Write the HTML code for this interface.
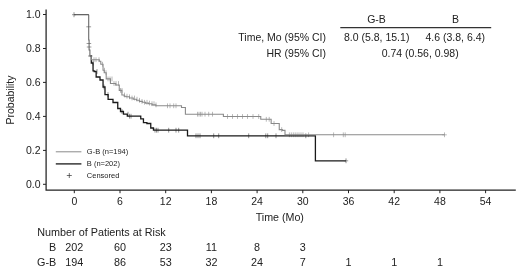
<!DOCTYPE html>
<html><head><meta charset="utf-8"><title>Kaplan-Meier</title>
<style>
html,body{margin:0;padding:0;background:#fff}
svg{display:block}
text{font-family:"Liberation Sans",sans-serif;fill:#222}
</style></head><body>
<svg width="520" height="275" viewBox="0 0 520 275">
<rect width="520" height="275" fill="#fff"/>
<!-- axes -->
<path d="M46.1,9.5V190.05H515.8" fill="none" stroke="#222" stroke-width="1.25"/>
<path d="M43,14.5h3M43,48.5h3M43,82.4h3M43,116.4h3M43,150.4h3M43,184.3h3" stroke="#222" stroke-width="1" fill="none"/>
<path d="M74.3,190v3.2M120,190v3.2M165.7,190v3.2M211.4,190v3.2M257.1,190v3.2M302.8,190v3.2M348.5,190v3.2M394.2,190v3.2M439.9,190v3.2M485.6,190v3.2" stroke="#222" stroke-width="1" fill="none"/>
<g font-size="10.5" text-anchor="end">
<text x="40.5" y="18.2">1.0</text><text x="40.5" y="52.2">0.8</text><text x="40.5" y="86.1">0.6</text><text x="40.5" y="120.1">0.4</text><text x="40.5" y="154.1">0.2</text><text x="40.5" y="188">0.0</text>
</g>
<g font-size="10.5" text-anchor="middle">
<text x="74.3" y="204.6">0</text><text x="120" y="204.6">6</text><text x="165.7" y="204.6">12</text><text x="211.4" y="204.6">18</text><text x="257.1" y="204.6">24</text><text x="302.8" y="204.6">30</text><text x="348.5" y="204.6">36</text><text x="394.2" y="204.6">42</text><text x="439.9" y="204.6">48</text><text x="485.6" y="204.6">54</text>
<text x="279.8" y="220.6" font-size="10.7">Time (Mo)</text>
</g>
<text font-size="10.5" text-anchor="middle" transform="translate(13.5,100) rotate(-90)">Probability</text>
<!-- curves -->
<path d="M94,57.3v4.8M96,57.3v4.8M99,57.3v4.8M102.5,61.8v4.8M104.5,67.8v4.8M106,70.3v4.8M108,76.5v4.8M110,76.5v4.8M112,76.5v4.8M114,81.1v4.8M116,81.1v4.8M118.5,81.1v4.8M120.5,88v4.8M122,88v4.8M124.5,92.6v4.8M127,93.8v4.8M129.5,94.4v4.8M132,95.6v4.8M134.5,95.6v4.8M137,96.8v4.8M139.5,97.9v4.8M142,99v4.8M144.5,99.9v4.8M147,99.9v4.8M149.5,100.7v4.8M152,101.3v4.8M154,101.3v4.8M156,102.5v4.8M167.5,103.4v4.8M170,103.4v4.8M173.7,103.4v4.8M176,103.4v4.8M197.5,111.8v4.8M199,111.8v4.8M200.5,111.8v4.8M202,111.8v4.8M205,111.8v4.8M208.7,111.8v4.8M212.5,111.8v4.8M227.5,114.1v4.8M232.5,114.1v4.8M237.5,114.1v4.8M242.5,114.1v4.8M247.5,114.1v4.8M253,114.1v4.8M258.7,114.1v4.8M266.3,116.9v4.8M269.2,116.9v4.8M274,121.1v4.8M281.7,127.2v4.8M289.4,132.4v4.8M291.3,132.4v4.8M293.3,132.4v4.8M295.2,132.4v4.8M297.1,132.4v4.8M299,132.4v4.8M301,132.4v4.8M303,132.4v4.8M308.6,132.4v4.8M333.6,132.4v4.8M343.3,132.4v4.8M345.2,132.4v4.8M444.5,132.4v4.8M442.2,134.8h4.6" fill="none" stroke="#8a8a8a" stroke-width="0.6"/>
<path d="M90.3,56 H91.3 V63 H92.3 H93.05 V70.8 H93.8 H94.2 V71.5 H94.6 H96.15 V77 H97.7 H100 V80 H102.3 H103.05 V87 H103.8 H105 V94.6 H106.2 H108.1 V99.3 H110 H113 V102.5 H116 H117.75 V108.5 H119.5 H120.5 V111.5 H121.5 H123.45 V114.2 H125.4 H127.3 V116.2 H129.2 H139.2 H140.75 V118.8 H142.3 H143.45 V122.7 H144.6 H146.9 V123.5 H149.2 H150.75 V128 H152.3 H153.45 V130.2 H154.6 H186.2 H187.5 V135.8 H188.8 H315.4 V160.8 H346" fill="none" stroke="#1a1a1a" stroke-width="1.3"/>
<path d="M93,60.6v4.8M97,69.1v4.8M104,84.6v4.8M108,92.2v4.8M122,109.1v4.8M128,111.8v4.8M129.5,113.8v4.8M131,113.8v4.8M155,127.8v4.8M156.5,127.8v4.8M158,127.8v4.8M168.7,127.8v4.8M176,127.8v4.8M178.7,127.8v4.8M196,133.4v4.8M198,133.4v4.8M200,133.4v4.8M213.7,133.4v4.8M218.7,133.4v4.8M248.7,133.4v4.8M265.8,133.4v4.8M267.7,133.4v4.8M276,133.4v4.8M305.8,133.4v4.8M346,158.4v4.8" fill="none" stroke="#1a1a1a" stroke-width="0.6" opacity="0.8"/>
<path d="M90.3,56 H91.3 V59.7 H92.3 H99.3 V61.2 H100.8 V64.2 H102.3 H103.05 V70.2 H103.8 H104.2 V72.7 H104.6 H106.2 V78.9 H107.8 H110.45 V83.5 H113.1 H115.8 V85 H118.5 H119.25 V90.4 H120 H121.9 V95 H123.8 H124.2 V96.2 H124.6 H126.05 V96.8 H127.5 H129.5 V98 H131.5 H133.25 V99.2 H135 H136.5 V100.3 H138 H139.4 V101.4 H140.8 H142.4 V102.3 H144 H145.5 V103.1 H147 H148.5 V103.7 H150 H152 V104.9 H154 H155.85 V105.8 H157.7 H179.2 H181.5 V107.5 H183.8 H185.4 V114.2 H187 H223 H223.4 V116.5 H223.8 H260 H260.75 V119.3 H261.5 H270.8 H271.15 V123.5 H271.5 H278.5 H279.25 V129.6 H280 H282.3 V130.4 H284.6 H285 V134.8 H285.4 H444.5" fill="none" stroke="#8a8a8a" stroke-width="1.1"/>
<path d="M74,14.7H88.9" fill="none" stroke="#4a4a4a" stroke-width="1.1"/>
<path d="M88.7,14.7 V40 H89.1 V50 H89.5 H89.9 V56 H90.3" fill="none" stroke="#6a6a6a" stroke-width="1.1"/>
<path d="M74,12.2v5M72,14.7h4M86.3,26.8h4.8M86.6,43.5h4.6M86.8,47h4.6M88,56h4.6M343.8,160.8h4.4" fill="none" stroke="#555" stroke-width="0.6"/>
<!-- legend -->
<path d="M55.8,151.8H81.4" stroke="#8a8a8a" stroke-width="1"/>
<path d="M55.8,163.9H81.4" stroke="#1a1a1a" stroke-width="1.3"/>
<path d="M66.8,175.5h5M69.3,173v5" stroke="#333" stroke-width="0.7"/>
<g font-size="7.5">
<text x="86.8" y="153.9">G-B (n=194)</text><text x="86.8" y="166">B (n=202)</text><text x="86.8" y="178.2">Censored</text>
</g>
<!-- summary table -->
<path d="M340.3,27.7H491.2" stroke="#333" stroke-width="1.2"/>
<g font-size="10.5">
<text x="376.5" y="22.8" text-anchor="middle">G-B</text><text x="455.5" y="22.8" text-anchor="middle">B</text>
<text x="326" y="41.4" text-anchor="end">Time, Mo (95% CI)</text><text x="376.7" y="41.4" text-anchor="middle">8.0 (5.8, 15.1)</text><text x="455.3" y="41.4" text-anchor="middle">4.6 (3.8, 6.4)</text>
<text x="326" y="57" text-anchor="end">HR (95% CI)</text><text x="420.2" y="57" text-anchor="middle">0.74 (0.56, 0.98)</text>
</g>
<!-- at risk table -->
<g font-size="10.8">
<text x="37.3" y="235.6">Number of Patients at Risk</text>
<text x="56.2" y="251.2" text-anchor="end">B</text><text x="56.2" y="266" text-anchor="end">G-B</text>
</g>
<g font-size="10.8" text-anchor="middle">
<text x="74.3" y="251.2">202</text><text x="120" y="251.2">60</text><text x="165.7" y="251.2">23</text><text x="211.4" y="251.2">11</text><text x="257.1" y="251.2">8</text><text x="302.8" y="251.2">3</text>
<text x="74.3" y="266">194</text><text x="120" y="266">86</text><text x="165.7" y="266">53</text><text x="211.4" y="266">32</text><text x="257.1" y="266">24</text><text x="302.8" y="266">7</text><text x="348.5" y="266">1</text><text x="394.2" y="266">1</text><text x="439.9" y="266">1</text>
</g>
</svg>
</body></html>
